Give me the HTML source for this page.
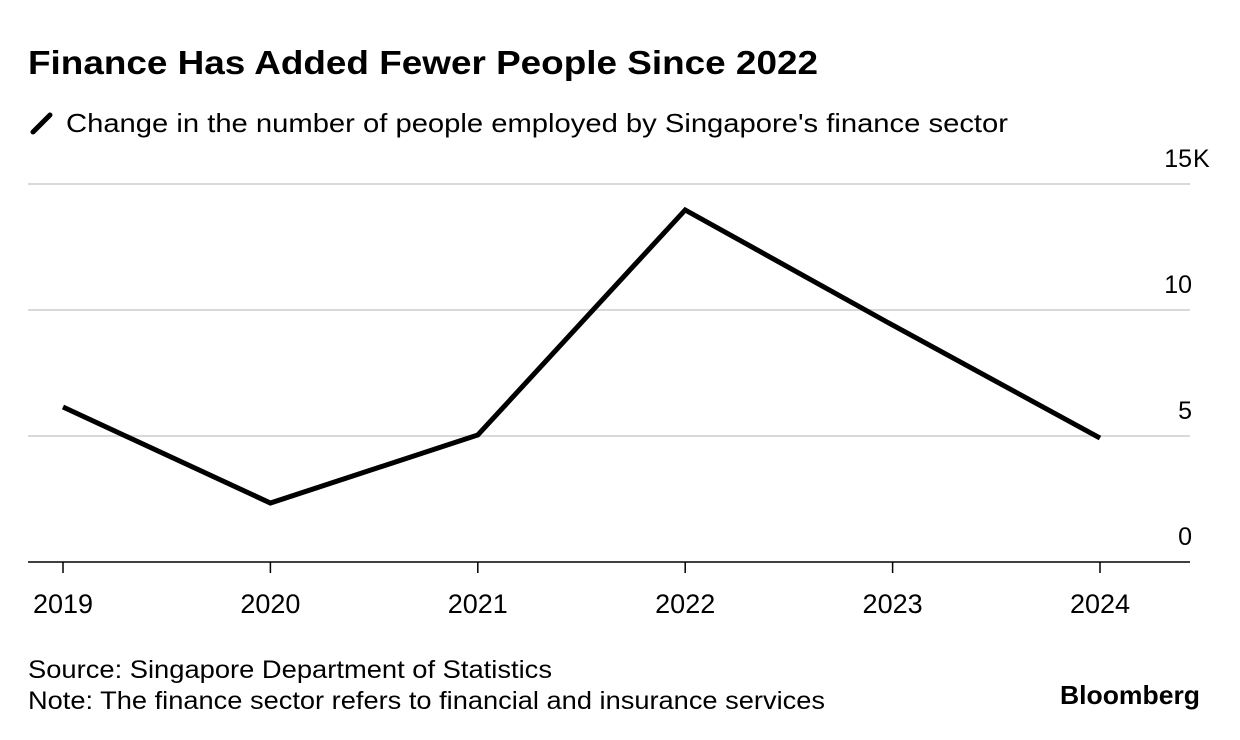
<!DOCTYPE html>
<html><head><meta charset="utf-8"><style>
body{margin:0;background:#fff;width:1240px;height:740px;overflow:hidden;font-family:"Liberation Sans",sans-serif;color:#000}
svg{position:absolute;left:0;top:0}
</style></head><body>
<svg width="1240" height="740">
<text x="28" y="74" font-size="33" font-weight="bold" textLength="790" lengthAdjust="spacingAndGlyphs">Finance Has Added Fewer People Since 2022</text>
<line x1="33" y1="132" x2="50" y2="115" stroke="#000" stroke-width="5" stroke-linecap="round"/>
<text x="66" y="132" font-size="26" textLength="942" lengthAdjust="spacingAndGlyphs">Change in the number of people employed by Singapore's finance sector</text>
<g id="grid"></g>
<g id="xaxis"></g>
<polyline id="line" fill="none" stroke="#000" stroke-width="5" stroke-linejoin="miter"/>
<text x="28" y="678" font-size="25" textLength="524" lengthAdjust="spacingAndGlyphs">Source: Singapore Department of Statistics</text>
<text x="28" y="709" font-size="25" textLength="797" lengthAdjust="spacingAndGlyphs">Note: The finance sector refers to financial and insurance services</text>
<text x="1060" y="704" font-size="26" font-weight="bold" textLength="140" lengthAdjust="spacingAndGlyphs">Bloomberg</text>
</svg>
<script>
const years=["2019","2020","2021","2022","2023","2024"];
const values=[6.15,2.34,5.04,13.97,9.4,4.92];
const yTicks=[0,5,10,15];
const yTickLabels=["0","5","10","15"];
const yUnit="K";
const NS="http://www.w3.org/2000/svg";
function xs(i){return 63+i*207.4;}
function ys(v){return 562-v*25.2;}
const grid=document.getElementById('grid');
yTicks.forEach((t,i)=>{
  const l=document.createElementNS(NS,'line');
  l.setAttribute('x1',28);l.setAttribute('x2',1190);
  l.setAttribute('y1',ys(t));l.setAttribute('y2',ys(t));
  l.setAttribute('stroke',t===0?'#000':'#d9d9d9');l.setAttribute('stroke-width',t===0?1.5:2);
  
  
  grid.appendChild(l);
  const tx=document.createElementNS(NS,'text');
  tx.setAttribute('x',1192);tx.setAttribute('y',ys(t)-17);
  tx.setAttribute('text-anchor','end');tx.setAttribute('font-size','25');
  tx.textContent=yTickLabels[i];
  
  
  grid.appendChild(tx);
  if(i===yTicks.length-1){
    const u=document.createElementNS(NS,'text');
    u.setAttribute('x',1193);u.setAttribute('y',ys(t)-17);
    u.setAttribute('font-size','25');
    u.textContent=yUnit;
    
    
    grid.appendChild(u);
  }
});
const xa=document.getElementById('xaxis');
years.forEach((y,i)=>{
  const l=document.createElementNS(NS,'line');
  l.setAttribute('x1',xs(i));l.setAttribute('x2',xs(i));
  l.setAttribute('y1',562);l.setAttribute('y2',573);
  l.setAttribute('stroke','#000');l.setAttribute('stroke-width',1.5);
  
  
  xa.appendChild(l);
  const tx=document.createElementNS(NS,'text');
  tx.setAttribute('x',xs(i));tx.setAttribute('y',613);
  tx.setAttribute('text-anchor','middle');tx.setAttribute('font-size','27');
  tx.textContent=y;
  
  
  xa.appendChild(tx);
});
document.getElementById('line').setAttribute('points',values.map((v,i)=>xs(i)+','+ys(v)).join(' '));
</script>
</body></html>
